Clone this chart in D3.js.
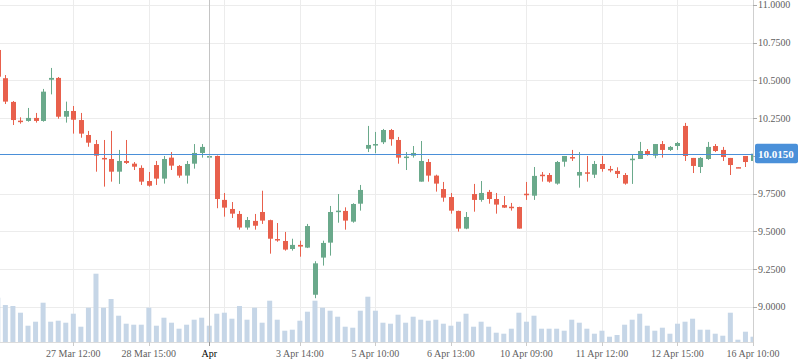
<!DOCTYPE html>
<html>
<head>
<meta charset="utf-8">
<script src="https://cdn.jsdelivr.net/npm/d3@7/dist/d3.min.js"></script>
<style>
  html,body{margin:0;padding:0;background:#fff;}
  #chart{width:798px;height:363px;}
  text{font-family:"Liberation Serif","Times New Roman",serif;}
</style>
</head>
<body>
<div id="chart"></div>
<script>
// candle data, one entry per bar (index = position on the axis)
const open  = [10.702,10.515,10.358,10.234,10.232,10.252,10.232,10.505,10.517,10.260,
               10.298,10.238,10.139,10.079,9.987,9.980,9.896,9.967,9.949,9.921,
               9.834,9.940,9.850,9.989,9.934,9.870,9.949,10.020,9.989,10.000,
               9.709,9.649,9.616,9.526,9.570,9.629,9.575,9.450,9.437,9.384,
               9.411,9.393,9.081,9.327,9.426,9.633,9.636,9.565,9.684,10.048,
               10.076,10.091,10.172,10.106,9.992,10.002,9.830,9.960,9.870,9.781,
               9.728,9.636,9.519,9.748,9.709,9.762,9.715,9.675,9.664,9.662,
               9.750,9.737,9.876,9.874,9.817,9.962,9.993,9.870,9.892,9.876,
               9.947,9.914,9.901,9.874,9.978,9.980,10.033,10.002,10.079,10.040,
               10.066,10.199,9.987,9.927,9.980,10.066,10.040,9.987,9.926,10.000,
               9.967];
const high  = [10.715,10.536,10.364,10.256,10.318,10.285,10.444,10.583,10.523,10.360,
               10.331,10.285,10.166,10.106,10.106,10.166,10.040,10.106,9.960,9.938,
               9.894,9.967,10.000,10.026,9.940,9.967,10.079,10.079,10.139,10.003,
               9.755,9.695,9.636,9.596,9.616,9.770,9.578,9.556,9.497,9.452,
               9.439,9.550,9.303,9.439,9.669,9.748,9.660,9.687,9.808,10.199,
               10.159,10.179,10.179,10.126,10.026,10.066,10.099,9.980,9.876,9.828,
               9.755,9.638,9.629,9.815,9.834,9.775,9.755,9.735,9.689,9.664,
               9.828,9.927,9.894,9.887,9.967,10.000,10.040,10.026,10.000,9.967,
               10.000,9.934,9.925,9.887,10.007,10.093,10.046,10.079,10.099,10.066,
               10.093,10.219,9.987,9.993,10.093,10.079,10.060,9.987,9.927,10.000,
               10.026];
const low   = [10.520,10.344,10.205,10.214,10.227,10.221,10.227,10.408,10.247,10.221,
               10.148,10.121,10.061,9.896,9.797,9.830,9.815,9.947,9.907,9.808,
               9.797,9.808,9.817,9.907,9.856,9.817,9.916,9.989,9.940,9.654,
               9.598,9.589,9.512,9.512,9.512,9.550,9.353,9.432,9.373,9.373,
               9.333,9.390,9.058,9.274,9.340,9.558,9.512,9.558,9.638,10.026,
               10.018,10.079,10.068,9.949,9.907,9.989,9.830,9.830,9.764,9.697,
               9.618,9.499,9.515,9.631,9.697,9.684,9.618,9.656,9.638,9.519,
               9.709,9.709,9.830,9.823,9.810,9.929,9.967,9.790,9.830,9.854,
               9.896,9.892,9.854,9.810,9.815,9.980,10.002,9.985,9.989,10.033,
               10.040,9.967,9.887,9.887,9.974,10.026,9.967,9.874,9.923,9.927,
               9.940];
const close = [10.525,10.360,10.238,10.230,10.252,10.232,10.426,10.517,10.260,10.298,
               10.240,10.148,10.088,10.002,9.984,9.896,9.967,9.954,9.929,9.830,
               9.803,9.850,9.980,9.936,9.870,9.947,10.020,10.060,10.000,9.715,
               9.658,9.618,9.526,9.576,9.538,9.572,9.452,9.445,9.380,9.411,
               9.400,9.536,9.289,9.424,9.629,9.638,9.572,9.682,9.775,10.073,
               10.079,10.172,10.111,9.989,9.996,10.020,9.967,9.870,9.817,9.724,
               9.638,9.519,9.596,9.709,9.755,9.715,9.678,9.658,9.660,9.519,
               9.748,9.868,9.874,9.830,9.960,10.000,9.990,9.894,9.889,9.947,
               9.914,9.912,9.881,9.817,9.982,10.033,10.007,10.079,10.040,10.060,
               10.086,10.000,9.934,9.987,10.060,10.033,9.993,9.940,9.924,9.960,
               10.015];
const volume = [443,370,360,293,163,203,393,203,213,193,
                283,153,343,683,343,430,263,183,173,173,
                343,163,243,193,133,173,223,243,163,283,
                293,233,360,223,343,193,413,223,113,123,
                213,303,413,343,313,253,153,143,313,453,
                313,193,183,273,193,253,223,213,223,183,
                163,203,283,153,203,153,93,83,133,293,
                203,263,133,133,133,113,223,193,133,83,
                113,53,70,173,223,283,163,113,143,83,
                183,203,233,123,123,83,63,293,23,103,
                53];

const tickIndex  = [10,20,28,40,50,60,70,80,90,100];
const tickLabels = ["27 Mar 12:00","28 Mar 15:00","Apr","3 Apr 14:00","5 Apr 10:00",
                    "6 Apr 13:00","10 Apr 09:00","11 Apr 12:00","12 Apr 15:00","16 Apr 10:00"];
const monthIndex = 28;
const priceTicks = [9.0,9.25,9.5,9.75,10.0,10.25,10.5,10.75,11.0];
const lastPrice  = 10.015;

const width = 798, height = 363;
const plotRight = 753, plotBottom = 342;
const up = "#6aa98b", down = "#e8604c";

const svg = d3.select("#chart").append("svg")
  .attr("width", width).attr("height", height);

svg.append("clipPath").attr("id", "plot")
  .append("rect").attr("x", 0).attr("y", 0).attr("width", plotRight).attr("height", plotBottom);

const x = d3.scaleLinear().domain([0, open.length - 1]).range([-2.2, plotRight]);
const y = d3.scaleLinear().domain([8.768, 11.033]).range([plotBottom, 0]);
const yVol = d3.scaleLinear().domain([0, 1000]).range([plotBottom, plotBottom - 100]);

const bodyW = 5;

// grid
const grid = svg.append("g").attr("shape-rendering", "crispEdges");
grid.selectAll("line.h").data(priceTicks.filter(v => v !== 10.0)).join("line")
  .attr("class", "h")
  .attr("x1", 0).attr("x2", plotRight)
  .attr("y1", d => Math.round(y(d)) + 0.5).attr("y2", d => Math.round(y(d)) + 0.5)
  .attr("stroke", "#ececec");
grid.selectAll("line.v").data(d3.range(10, open.length - 1, 10)).join("line")
  .attr("class", "v")
  .attr("x1", d => Math.round(x(d)) + 0.5).attr("x2", d => Math.round(x(d)) + 0.5)
  .attr("y1", 0).attr("y2", plotBottom)
  .attr("stroke", "#ececec");

const plot = svg.append("g").attr("clip-path", "url(#plot)");

// volume
plot.append("g").selectAll("rect").data(volume).join("rect")
  .attr("x", (d, i) => x(i) - bodyW / 2)
  .attr("width", bodyW)
  .attr("y", d => yVol(d))
  .attr("height", d => plotBottom - yVol(d))
  .attr("fill", "#c6d6e7");

// month separator
svg.append("line")
  .attr("x1", Math.round(x(monthIndex)) + 0.5).attr("x2", Math.round(x(monthIndex)) + 0.5)
  .attr("y1", 0).attr("y2", plotBottom + 4)
  .attr("stroke", "#c4c4c4").attr("shape-rendering", "crispEdges");

// candles
const candles = plot.append("g").selectAll("g").data(open.map((o, i) => i)).join("g")
  .attr("fill", i => close[i] >= open[i] ? up : down)
  .attr("stroke", i => close[i] >= open[i] ? up : down);

candles.append("line")
  .attr("x1", i => Math.round(x(i)) + 0.5).attr("x2", i => Math.round(x(i)) + 0.5)
  .attr("y1", i => y(high[i])).attr("y2", i => y(low[i]))
  .attr("stroke-width", 1);

candles.append("rect")
  .attr("stroke", "none")
  .attr("x", i => Math.round(x(i)) + 0.5 - bodyW / 2)
  .attr("width", bodyW)
  .attr("y", i => y(Math.max(open[i], close[i])))
  .attr("height", i => Math.max(1.5, Math.abs(y(open[i]) - y(close[i]))));

// last price line
svg.append("line")
  .attr("x1", 0).attr("x2", plotRight)
  .attr("y1", Math.round(y(lastPrice)) + 0.5).attr("y2", Math.round(y(lastPrice)) + 0.5)
  .attr("stroke", "#4a8fd8").attr("shape-rendering", "crispEdges");

// right axis
const ax = svg.append("g").attr("shape-rendering", "crispEdges");
ax.append("line")
  .attr("x1", plotRight + 0.5).attr("x2", plotRight + 0.5)
  .attr("y1", 0).attr("y2", plotBottom + 4)
  .attr("stroke", "#cfcfcf");
ax.selectAll("line.t").data(priceTicks).join("line")
  .attr("class", "t")
  .attr("x1", plotRight).attr("x2", plotRight + 4)
  .attr("y1", d => Math.round(y(d)) + 0.5).attr("y2", d => Math.round(y(d)) + 0.5)
  .attr("stroke", "#aaa");
svg.append("g").selectAll("text").data(priceTicks.filter(v => v !== 10.0)).join("text")
  .attr("x", plotRight + 5)
  .attr("y", d => y(d))
  .attr("dy", "0.35em")
  .attr("font-size", 10)
  .attr("fill", "#606060")
  .text(d => d.toFixed(4));

// last price label
const ly = y(lastPrice);
svg.append("rect")
  .attr("x", plotRight + 2).attr("y", ly - 10)
  .attr("width", 43).attr("height", 19.5).attr("rx", 2)
  .attr("fill", "#4a90d9");
svg.append("text")
  .attr("x", plotRight + 5).attr("y", ly).attr("dy", "0.36em")
  .attr("font-size", 11).attr("font-weight", "bold")
  .attr("fill", "#fff")
  .text(lastPrice.toFixed(4));

// bottom axis
ax.append("line")
  .attr("x1", 0).attr("x2", plotRight)
  .attr("y1", plotBottom + 0.5).attr("y2", plotBottom + 0.5)
  .attr("stroke", "#dcdcdc");
ax.selectAll("line.xt").data(tickIndex).join("line")
  .attr("class", "xt")
  .attr("x1", d => Math.round(x(d)) + 0.5).attr("x2", d => Math.round(x(d)) + 0.5)
  .attr("y1", plotBottom).attr("y2", plotBottom + 4)
  .attr("stroke", d => d === monthIndex ? "#999" : "#ccc");
svg.append("g").selectAll("text").data(tickIndex).join("text")
  .attr("x", d => x(d))
  .attr("y", plotBottom + 15)
  .attr("text-anchor", "middle")
  .attr("font-size", 10)
  .attr("fill", d => d === monthIndex ? "#000" : "#606060")
  .text((d, i) => tickLabels[i]);
</script>
</body>
</html>
